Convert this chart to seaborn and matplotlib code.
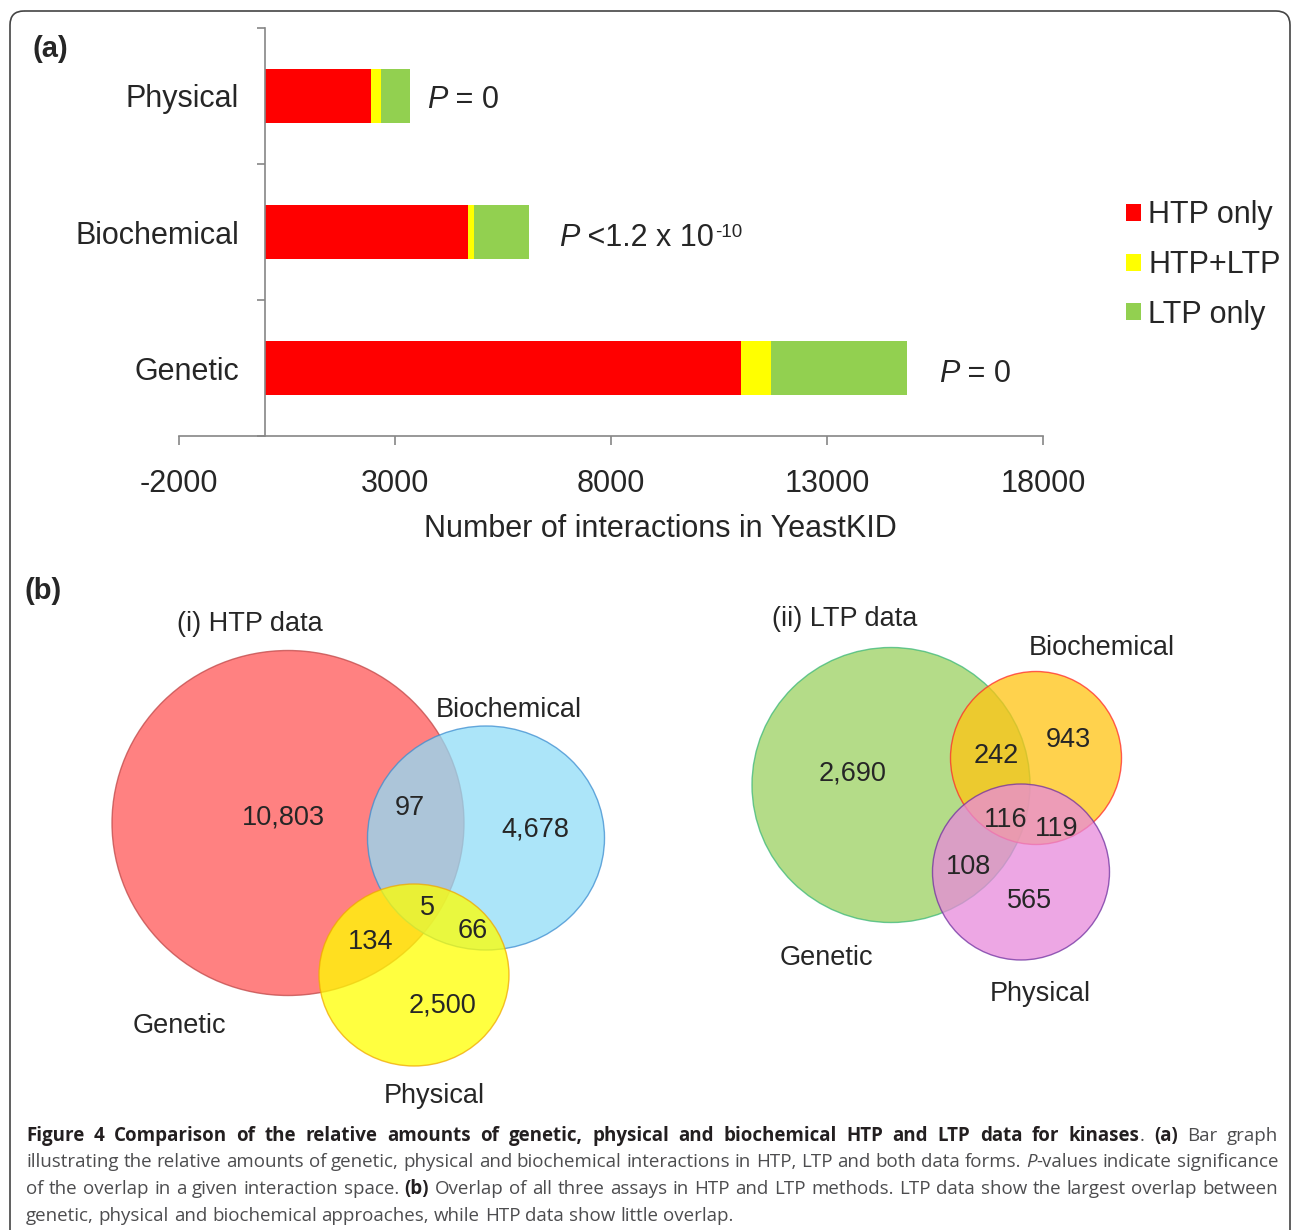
import matplotlib
matplotlib.use('Agg')
import matplotlib.pyplot as plt
import pandas as pd
import seaborn as sns
from matplotlib.patches import Ellipse, Patch, FancyBboxPatch

W, H = 1293, 1230

# ── Data ─────────────────────────────────────────────────────────────
assays = ['Physical', 'Biochemical', 'Genetic']
htp_only = [2450, 4690, 11020]
htp_ltp = [230, 150, 690]
ltp_only = [670, 1270, 3140]
# P-value labels: text after the italic P, and superscript exponent
p_text = ['= 0', '<1.2 x 10', '= 0']
p_exp = ['', '-10', '']
x_ticks = [-2000, 3000, 8000, 13000, 18000]
series_names = ['HTP only', 'HTP+LTP', 'LTP only']

venn_sets = ['Genetic', 'Biochemical', 'Physical']
# regions: G, G&B, B, G&B&P, B&P, G&P, P
htp_counts = [10803, 97, 4678, 5, 66, 134, 2500]
ltp_counts = [2690, 242, 943, 116, 119, 108, 565]

# ── Layout / style (pixel coords) ────────────────────────────────────
RED, YELLOW, GREEN = '#ff0000', '#ffff00', '#92d050'
AXIS_GREY = '#868686'
FS = 22      # bar chart text
VFS = 19.5   # venn text
DY = 2       # small vertical nudge for venn text

htp_circles = [((288, 823), 352, 345, '#ff5757', '#c04848'),
               ((486, 838), 237, 224, '#91ddf8', '#3c8dd0'),
               ((414, 975), 190, 182, '#ffff00', '#f0a800')]
ltp_circles = [((891, 785), 278, 275, '#9bd160', '#3cb878'),
               ((1036, 758), 171, 173, '#ffc411', '#ff2a2a'),
               ((1021, 872), 177, 176, '#e88adb', '#7030a0')]
htp_num_pos = [(283, 815), (410, 806), (535, 827), (427, 906), (473, 929), (371, 940), (443, 1003)]
ltp_num_pos = [(853, 772), (996, 754), (1068, 738), (1006, 818), (1057, 827), (968, 865), (1030, 899)]
htp_name_pos = [(179, 1024), (509, 708), (434, 1094)]
ltp_name_pos = [(826, 956), (1102, 646), (1040, 992)]

sns.set_theme(style='white')
plt.rcParams['font.family'] = ['Liberation Sans', 'DejaVu Sans']

fig = plt.figure(figsize=(W / 100, H / 100), dpi=100)
renderer = fig.canvas.get_renderer()

# background axes in pixel coordinates
bg = fig.add_axes([0, 0, 1, 1])
bg.set_xlim(0, W)
bg.set_ylim(H, 0)
bg.axis('off')

bg.add_patch(FancyBboxPatch((10, 11), 1280, 1300, boxstyle='round,pad=0,rounding_size=14',
                            facecolor='none', edgecolor='#444444', lw=1.2))


def text_width(t):
    return t.get_window_extent(renderer).width


# ── (a) stacked bar chart ────────────────────────────────────────────
ax = fig.add_axes([179 / W, 1 - 436 / H, 864 / W, 408 / H])
df = pd.DataFrame({'assay': assays, 'htp': htp_only, 'both': htp_ltp, 'ltp': ltp_only})
df['c1'] = df['htp']
df['c2'] = df['htp'] + df['both']
df['c3'] = df['c2'] + df['ltp']
for col, colour in [('c3', GREEN), ('c2', YELLOW), ('c1', RED)]:
    sns.barplot(data=df, x=col, y='assay', orient='h', color=colour, width=0.4,
                saturation=1, linewidth=0, ax=ax)

ax.set_xlim(-2000, 18000)
ax.set_ylim(2.5, -0.5)
ax.set_xlabel('')
ax.set_ylabel('')
ax.set_facecolor('none')
for s in ['top', 'right']:
    ax.spines[s].set_visible(False)
ax.spines['left'].set_position(('data', 0))
for s in ['left', 'bottom']:
    ax.spines[s].set_color(AXIS_GREY)
    ax.spines[s].set_linewidth(1.2)
ax.set_xticks(x_ticks)
ax.set_xticklabels([str(t) for t in x_ticks])
ax.set_yticks([-0.5, 0.5, 1.5, 2.5])
ax.set_yticklabels([''] * 4)
ax.set_yticks([0, 1, 2], assays, minor=True)
ax.tick_params(axis='x', direction='out', length=6.5, width=1.2, color=AXIS_GREY,
               labelsize=FS, pad=17, bottom=True)
ax.tick_params(axis='y', which='major', direction='out', length=6, width=1.2,
               color=AXIS_GREY, left=True)
ax.tick_params(axis='y', which='minor', length=0, pad=19, labelsize=FS, left=True)

fig.text(660 / W, 1 - 529 / H, 'Number of interactions in YeastKID', fontsize=FS,
         ha='center', va='center')

# P-value annotations (italic P, rest upright, optional superscript)
p_pos = [(427, 108), (559, 246), (939, 382)]
for (px, py), rest, ex in zip(p_pos, p_text, p_exp):
    t = bg.text(px, py, 'P', fontsize=FS, fontstyle='italic', ha='left', va='baseline')
    x = px + text_width(t)
    t = bg.text(x, py, ' ' + rest, fontsize=FS, ha='left', va='baseline')
    x += text_width(t)
    if ex:
        bg.text(x + 1, py - 9, ex, fontsize=13.5, ha='left', va='baseline')

handles = [Patch(facecolor=c, edgecolor='none') for c in (RED, YELLOW, GREEN)]
fig.legend(handles, series_names, loc='center left', bbox_to_anchor=(1126 / W, 1 - 265 / H),
           frameon=False, fontsize=FS, handlelength=0.48, handleheight=0.48,
           handletextpad=0.25, labelspacing=0.64, borderpad=0, borderaxespad=0)

bg.text(50, 49, '(a)', fontsize=21, fontweight='bold', ha='center', va='center')
bg.text(43, 591, '(b)', fontsize=21, fontweight='bold', ha='center', va='center')


# ── (b) Venn diagrams ────────────────────────────────────────────────
def draw_venn(circles, counts, num_pos, name_pos):
    for (c, w, h, fc, ec) in circles:
        bg.add_patch(Ellipse(c, w, h, facecolor=fc, edgecolor=ec, alpha=0.75, lw=1.0))
    for v, (x, y) in zip(counts, num_pos):
        bg.text(x, y + DY, f'{v:,}', fontsize=VFS, ha='center', va='center')
    for name, (x, y) in zip(venn_sets, name_pos):
        bg.text(x, y + DY, name, fontsize=VFS, ha='center', va='center')


draw_venn(htp_circles, htp_counts, htp_num_pos, htp_name_pos)
draw_venn(ltp_circles, ltp_counts, ltp_num_pos, ltp_name_pos)
bg.text(250, 622 + DY, '(i) HTP data', fontsize=VFS, ha='center', va='center')
bg.text(845, 617 + DY, '(ii) LTP data', fontsize=VFS, ha='center', va='center')

# ── Caption ──────────────────────────────────────────────────────────
caption = [
    [("Figure 4 Comparison of the relative amounts of genetic, physical and biochemical HTP and LTP data for kinases", 'b'),
     (". ", 'r'), ("(a)", 'b'), (" Bar graph", 'r')],
    [("illustrating the relative amounts of genetic, physical and biochemical interactions in HTP, LTP and both data forms. ", 'r'),
     ("P", 'i'), ("-values indicate significance", 'r')],
    [("of the overlap in a given interaction space. ", 'r'), ("(b)", 'b'),
     (" Overlap of all three assays in HTP and LTP methods. LTP data show the largest overlap between", 'r')],
    [("genetic, physical and biochemical approaches, while HTP data show little overlap.", 'r')],
]
cap_base = [1141, 1167, 1194, 1221]
X0, X1 = 26, 1278


def style_kw(st, size):
    kw = dict(fontsize=size, family='Open Sans', va='baseline', ha='left', color='#4d4d4f')
    if st == 'b':
        kw.update(fontweight='bold', color='#231f20')
    if st == 'i':
        kw.update(fontstyle='italic')
    return kw


def measure(piece, st, size):
    t = bg.text(0, 0, piece, **style_kw(st, size))
    w = text_width(t)
    t.remove()
    return w


def split_words(runs):
    words = [[]]
    for text, st in runs:
        for k, part in enumerate(text.split(' ')):
            if k > 0:
                words.append([])
            if part:
                words[-1].append((part, st))
    return [w for w in words if w]


base = 12
space = measure('a a', 'r', base) - measure('aa', 'r', base)
natural = []
for runs in caption[:3]:
    words = split_words(runs)
    tot = sum(measure(p, s, base) for w in words for p, s in w)
    natural.append(tot + space * (len(words) - 1))
size = base * (X1 - X0) / max(natural) * 0.995
space = measure('a a', 'r', size) - measure('aa', 'r', size)

for i, (runs, yb) in enumerate(zip(caption, cap_base)):
    words = split_words(runs)
    widths = [[measure(p, s, size) for p, s in w] for w in words]
    tot = sum(sum(w) for w in widths)
    gap = (X1 - X0 - tot) / (len(words) - 1) if i < 3 else space
    x = X0
    for w, ws in zip(words, widths):
        for (p, s), pw in zip(w, ws):
            bg.text(x, yb, p, **style_kw(s, size))
            x += pw
        x += gap

fig.savefig('out.png', dpi=100)
